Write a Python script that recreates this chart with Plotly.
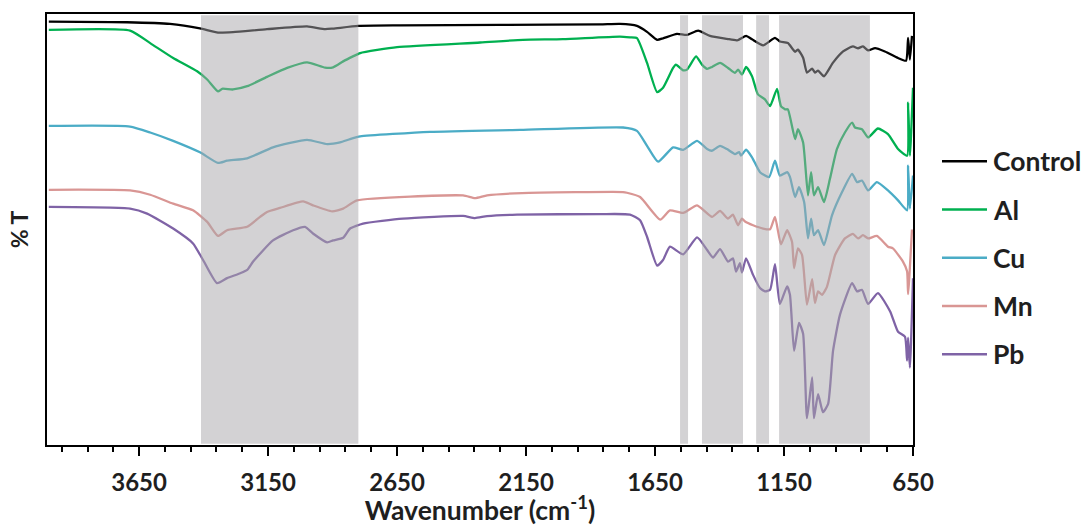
import plotly.graph_objects as go

# ---------------- data ----------------
names = ["Control", "Al", "Cu", "Mn", "Pb"]
colors = ["#000000", "#00B050", "#4BACC6", "#D99694", "#7F63A6"]

control_wn = [4000, 3697, 3530, 3414, 3344, 3286, 3154, 2999, 2929, 2898, 2801, 2638, 2251, 1863, 1786, 1720,
              1681, 1642, 1619, 1565, 1526, 1483, 1437, 1371, 1332, 1297, 1274, 1231, 1185, 1166, 1135, 1107,
              1096, 1076, 1061, 1041, 1030, 1018, 995, 960, 921, 883, 863, 844, 824, 797, 759, 708, 677, 669,
              662, 654]
control_t = [426.3, 425.7, 424, 419.5, 415.3, 415.7, 418.7, 421.5, 418.7, 419.3, 422, 422.5, 423, 423.5, 424, 422,
             416, 408, 409.5, 414, 413, 417.3, 412, 409, 407.5, 412, 408.5, 402.5, 410, 406.3, 404.7, 396,
             398, 390, 375, 379, 375, 377, 371.3, 385, 396.3, 401.3, 399.5, 401.3, 397.3, 399.7, 396.3, 389.7, 387, 410,
             388, 412]

al_wn = [4000, 3685, 3607, 3518, 3425, 3386, 3344, 3328, 3286, 3231, 3154, 3076, 2999, 2929, 2898, 2859, 2821,
         2793, 2650, 2328, 2162, 2007, 1786, 1747, 1720, 1681, 1642, 1619, 1580, 1569, 1541, 1526, 1491, 1468,
         1448, 1429, 1398, 1367, 1340, 1328, 1313, 1297, 1274, 1251, 1224, 1204, 1177, 1162, 1146, 1135, 1107,
         1096, 1076, 1057, 1045, 1034, 1018, 995, 972, 945, 914, 886, 875, 848, 824, 786, 747, 708, 673, 669,
         662, 650]
al_t = [418, 417.3, 404.7, 389.7, 376.3, 368, 356, 358.7, 358, 361.3, 370.7, 379.7, 385.3, 380, 380.3, 386.3, 391.3,
        394.7, 400.7, 405.3, 408, 408.7, 411.3, 410.5, 409.7, 384.7, 355.3, 359.7, 379.7, 383, 377.3, 378, 391.3, 383,
        378.7, 380.7, 384.7, 379.7, 374.7, 378, 373, 380.7, 371.3, 353, 348, 341.3, 358.7, 341.3, 338, 338, 308,
        318, 304.7, 251.3, 274.7, 251.3, 259.7, 244.7, 268, 298, 314.7, 324.7, 319.7, 318, 309.7, 318.7, 313, 298, 291.3, 344.7,
        291.3, 359.7]

cu_wn = [4000, 3685, 3607, 3518, 3414, 3344, 3309, 3231, 3131, 2999, 2921, 2871, 2832, 2793, 2522, 2173, 1774,
         1720, 1681, 1638, 1580, 1541, 1487, 1448, 1429, 1398, 1371, 1340, 1324, 1317, 1297, 1274, 1243, 1208,
         1185, 1166, 1138, 1127, 1107, 1092, 1072, 1057, 1045, 1034, 1018, 995, 964, 925, 886, 867, 848, 824,
         790, 747, 708, 673, 669, 662, 650]
cu_t = [321.3, 320.7, 314.7, 306.3, 294.7, 284, 286.3, 288.7, 299.7, 307.3, 303, 304.7, 308, 310.7, 315.3, 317.3, 319.7,
        316.3, 301.3, 285.3, 299.7, 297.3, 306.3, 298, 296.3, 301.3, 298, 293, 295, 291.3, 297.3, 289.7, 274.7, 269.7,
        286.3, 271.3, 274.7, 270, 249.7, 259.7, 244.7, 208, 228, 211.3, 216.3, 201.3, 231.3, 254.7, 273, 264.7, 266.3, 256.3,
        264.7, 256.3, 246.3, 236.3, 281.3, 238, 271.3]

mn_wn = [4000, 3685, 3607, 3518, 3441, 3386, 3344, 3309, 3231, 3181, 3154, 3104, 3014, 2976, 2902, 2859, 2805,
         2394, 2348, 2301, 2166, 1774, 1759, 1708, 1630, 1592, 1541, 1487, 1429, 1398, 1367, 1348, 1328, 1313,
         1301, 1270, 1231, 1204, 1185, 1162, 1138, 1119, 1111, 1096, 1080, 1061, 1041, 1030, 1018, 1003, 984,
         952, 914, 883, 863, 844, 824, 790, 747, 728, 689, 673, 669, 654]
mn_t = [257, 256.3, 252, 243, 236.3, 224.7, 210.5, 216.3, 219.7, 229.7, 234.7, 238.7, 245.3, 241.3, 235.3, 238, 246.3,
        251.3, 248.5, 251.3, 253.7, 254.7, 254, 249.7, 227, 236.3, 233.7, 241.3, 229.7, 235.7, 228, 232, 221.3, 228,
        225, 221.3, 218, 217.3, 229.7, 202, 216.3, 204.7, 178, 198, 191.3, 141.3, 167, 143, 154.7, 151.3, 159,
        191.3, 208, 212.5, 208, 211.3, 208, 210.5, 199.7, 198, 184.7, 175, 152, 217]

pb_wn = [4000, 3685, 3619, 3518, 3441, 3402, 3348, 3309, 3258, 3231, 3208, 3131, 3053, 3007, 2976, 2921, 2898,
         2859, 2832, 2782, 2627, 2394, 2348, 2301, 2185, 1863, 1747, 1708, 1681, 1642, 1619, 1592, 1541, 1487,
         1448, 1425, 1398, 1367, 1348, 1336, 1321, 1313, 1297, 1270, 1243, 1224, 1204, 1185, 1166, 1138, 1127,
         1111, 1092, 1076, 1061, 1041, 1034, 1018, 999, 979, 960, 933, 886, 867, 848, 824, 786, 739, 708, 681,
         673, 669, 662, 650]
pb_t = [239.7, 238, 233, 218, 203, 186.3, 163, 168, 173, 176.3, 184.7, 206, 216.3, 219.7, 213, 204, 206,
        208.7, 218, 223, 228, 230.7, 228.5, 230.5, 232, 232.5, 232, 226.3, 209.7, 180.7, 186.3, 199.7, 192, 209,
        196.3, 188.7, 197.3, 184.7, 188, 174.7, 183, 173.7, 188, 171.3, 158, 154.7, 156.3, 182, 142, 159.7, 151.3,
        94.7, 123, 112, 27, 68, 27, 51.3, 33, 41.3, 94.7, 131.3, 163, 154.7, 156.3, 142, 153, 134.7, 114, 109,
        85, 108, 78, 168]

series_wn = [control_wn, al_wn, cu_wn, mn_wn, pb_wn]
series_t = [control_t, al_t, cu_t, mn_t, pb_t]

# highlighted wavenumber regions (cm-1)
band_starts = [3410, 1553, 1468, 1258, 1169]
band_ends = [2800, 1522, 1309, 1208, 817]

major_tick0 = 650
major_dtick = 500
minor_dtick = 100
x_range = [4007, 650]
y_range = [0, 434]

# ---------------- layout constants ----------------
W, H = 1083, 526
L, R, T, B = 47, 170, 14, 78
FONT = "Lato"
TXT = "#1f1f1f"


def px2paper_x(px):
    return (px - L) / (W - L - R)


def px2paper_y(py):
    return 1 - (py - T) / (H - T - B)


fig = go.Figure()
for name, color, wn, t in zip(names, colors, series_wn, series_t):
    fig.add_trace(go.Scatter(
        x=wn, y=t, mode="lines", name=name, showlegend=False,
        line=dict(color=color, width=2.3, shape="spline", smoothing=0.5),
    ))

for x0, x1 in zip(band_starts, band_ends):
    fig.add_shape(type="rect", xref="x", yref="y", x0=x0, x1=x1, y0=y_range[0] + 1.2, y1=y_range[1] - 1.2,
                  fillcolor="rgba(168,166,170,0.5)", line_width=0, layer="above")

# custom legend
leg_y0, leg_dy = 162.3, 48.6
for i, (name, color) in enumerate(zip(names, colors)):
    yp = px2paper_y(leg_y0 + i * leg_dy)
    fig.add_shape(type="line", xref="paper", yref="paper",
                  x0=px2paper_x(942), x1=px2paper_x(987), y0=yp, y1=yp,
                  line=dict(color=color, width=2.5))
    fig.add_annotation(xref="paper", yref="paper", x=px2paper_x(991), y=yp,
                       text=f"<b>{name}</b>", showarrow=False, xanchor="left", yanchor="middle",
                       font=dict(family=FONT, size=26.5, color=TXT))

axis_line = dict(showline=True, linecolor="black", linewidth=2, mirror=True, showgrid=False, zeroline=False)

fig.update_layout(
    width=W, height=H,
    margin=dict(l=L, r=R, t=T, b=B),
    paper_bgcolor="white", plot_bgcolor="white",
    font=dict(family=FONT, color=TXT),
    xaxis=dict(
        range=x_range, tickmode="linear", tick0=major_tick0, dtick=major_dtick,
        ticks="outside", ticklen=9, tickwidth=1.5, tickcolor="black",
        ticklabelstandoff=6,
        tickfont=dict(family=FONT, size=24, color=TXT, weight="bold"),
        minor=dict(ticks="outside", ticklen=5, tickwidth=1.5, tickcolor="black", dtick=minor_dtick,
                   tick0=major_tick0, showgrid=False),
        title=dict(text="<b>Wavenumber (cm<sup>-1</sup>)</b>", font=dict(family=FONT, size=26.5, color=TXT),
                   standoff=0),
        **axis_line,
    ),
    yaxis=dict(
        range=y_range, showticklabels=False, ticks="",
        title=dict(text="<b>% T</b>", font=dict(family=FONT, size=23, color=TXT), standoff=10),
        **axis_line,
    ),
)

fig.write_html("out.html")
